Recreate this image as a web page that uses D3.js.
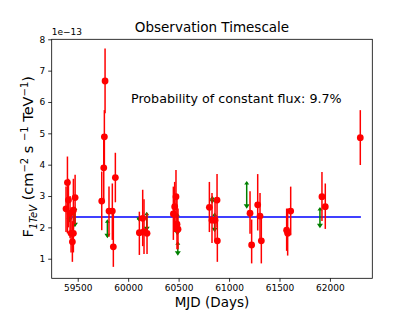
<!DOCTYPE html>
<html lang="en">
<head>
<meta charset="utf-8">
<title>Observation Timescale</title>
<script src="https://cdnjs.cloudflare.com/ajax/libs/d3/7.8.5/d3.min.js"></script>
<style>
  html, body { margin: 0; padding: 0; background: #fff; }
  svg { display: block; font-family: "DejaVu Sans", sans-serif; }
</style>
</head>
<body>
<div id="chart"></div>
<script>
// detections: MJD, flux (1e-13), error bar top / bottom
const mjd  = [59384, 59398, 59408, 59424, 59434, 59447, 59457, 59457, 59474,
              59738, 59758, 59764, 59771, 59810, 59843, 59853, 59873,
              60111, 60144, 60157, 60187,
              60448, 60461, 60474, 60484, 60494,
              60805, 60831, 60861, 60881, 60884,
              61208, 61224, 61284, 61307, 61320,
              61571, 61581, 61611, 61921, 61954, 62301];
const flux = [2.59, 3.43, 2.87, 2.45, 1.81, 1.54, 1.81, 2.55, 2.95,
              2.84, 3.90, 4.89, 6.67, 2.52, 2.52, 1.38, 3.59,
              1.83, 2.29, 1.86, 1.81,
              2.43, 2.66, 2.98, 2.10, 1.94,
              2.64, 2.23, 2.23, 2.87, 1.57,
              2.45, 1.44, 2.72, 2.36, 1.57,
              1.91, 1.81, 2.52, 2.98, 2.66, 4.86];
const errTop = [3.30, 4.26, 3.55, 3.00, 2.45, 2.20, 2.60, 3.55, 3.68,
                3.78, 4.95, 5.74, 7.71, 3.30, 3.40, 2.45, 4.38,
                2.50, 3.20, 2.90, 2.45,
                3.30, 3.45, 3.83, 2.90, 2.60,
                3.45, 3.10, 2.90, 3.70, 2.30,
                3.15, 2.25, 3.70, 3.10, 2.30,
                2.60, 2.60, 3.30, 3.77, 3.40, 5.74];
const errBot = [1.85, 1.81, 2.00, 1.65, 1.20, 0.90, 1.20, 1.75, 2.10,
                1.91, 2.90, 3.95, 5.64, 1.70, 1.60, 0.74, 2.80,
                1.12, 1.40, 1.15, 1.15,
                1.60, 1.85, 2.10, 1.30, 1.30,
                1.85, 1.50, 1.55, 2.00, 0.90,
                1.80, 0.85, 1.90, 1.55, 0.85,
                1.25, 1.10, 1.75, 2.20, 1.95, 3.99];

// upper limits: MJD, top, bottom (arrow)
const ulMjd = [59418, 59472, 59794, 60110, 60184, 60488, 60492, 60834, 60857, 61175, 61901];
const ulTop = [2.45, 2.62, 2.21, 2.31, 2.45, 2.42, 1.51, 2.96, 2.43, 3.43, 2.60];
const ulBot = [2.20, 2.05, 1.70, 2.22, 1.92, 1.79, 1.14, 2.80, 1.89, 2.64, 2.02];

// constant flux fit
const fitRange = [59408, 62307];
const fitValue = 2.33;

const xTicks = [59500, 60000, 60500, 61000, 61500, 62000];
const yTicks = [1, 2, 3, 4, 5, 6, 7, 8];

const W = 417, H = 313;
const margin = {top: 39.3, right: 44.7, bottom: 34.7, left: 51.7};
const width = W - margin.left - margin.right,
      height = H - margin.top - margin.bottom;

const x = d3.scaleLinear().domain([59242, 62420]).range([0, width]);
const y = d3.scaleLinear().domain([0.375, 8.0]).range([height, 0]);

const svg = d3.select("#chart").append("svg")
  .attr("width", W).attr("height", H);

const g = svg.append("g")
  .attr("transform", "translate(" + margin.left + "," + margin.top + ")");

// axes
const xAxis = g.append("g")
  .attr("transform", "translate(0," + height + ")")
  .call(d3.axisBottom(x).tickValues(xTicks).tickSize(3.5).tickPadding(3).tickFormat(d3.format("d")));
const yAxis = g.append("g")
  .call(d3.axisLeft(y).tickValues(yTicks).tickSize(3.5).tickPadding(3).tickFormat(d3.format("d")));
[xAxis, yAxis].forEach(function(a) {
  a.select(".domain").remove();
  a.selectAll("line").attr("stroke", "#000").attr("stroke-width", 0.8);
  a.selectAll("text").attr("font-size", "9px").attr("font-family", "DejaVu Sans").attr("fill", "#000");
});

// fit line
g.append("line")
  .attr("x1", x(fitRange[0])).attr("x2", x(fitRange[1]))
  .attr("y1", y(fitValue)).attr("y2", y(fitValue))
  .attr("stroke", "#0000ff").attr("stroke-width", 1.5);

// upper limits
const ul = ulMjd.map(function(m, i) { return {m: m, t: ulTop[i], b: ulBot[i]}; });
const ulG = g.append("g").attr("fill", "#008000").attr("stroke", "#008000");
ulG.selectAll("line.ul").data(ul).enter().append("line")
  .attr("class", "ul")
  .attr("x1", d => x(d.m)).attr("x2", d => x(d.m))
  .attr("y1", d => y(d.t)).attr("y2", d => y(d.b))
  .attr("stroke-width", 1.5);
ulG.selectAll("path.head").data(ul).enter().append("path")
  .attr("class", "head")
  .attr("stroke", "none")
  .attr("d", function(d) {
    const cx = x(d.m), cy = y(d.b);
    return "M" + (cx - 3) + "," + (cy - 3) + "L" + (cx + 3) + "," + (cy - 3) + "L" + cx + "," + (cy + 1.5) + "Z";
  });
ulG.selectAll("path.cap").data(ul).enter().append("path")
  .attr("class", "cap")
  .attr("stroke", "none")
  .attr("d", function(d) {
    const cx = x(d.m), cy = y(d.t);
    return "M" + (cx - 2.5) + "," + (cy + 2) + "L" + (cx + 2.5) + "," + (cy + 2) + "L" + cx + "," + (cy - 1.5) + "Z";
  });

// detections
const det = mjd.map(function(m, i) { return {m: m, f: flux[i], t: errTop[i], b: errBot[i]}; });
g.append("g").selectAll("line").data(det).enter().append("line")
  .attr("x1", d => x(d.m)).attr("x2", d => x(d.m))
  .attr("y1", d => y(d.t)).attr("y2", d => y(d.b))
  .attr("stroke", "#ff0000").attr("stroke-width", 1.5);
g.append("g").selectAll("circle").data(det).enter().append("circle")
  .attr("cx", d => x(d.m)).attr("cy", d => y(d.f))
  .attr("r", 3.4).attr("fill", "#ff0000");

// frame
g.append("rect")
  .attr("width", width).attr("height", height)
  .attr("fill", "none").attr("stroke", "#000").attr("stroke-width", 0.8);

// annotation
g.append("text")
  .attr("x", x(60028)).attr("y", y(5.98))
  .attr("font-size", "12.7px").attr("fill", "#000")
  .text("Probability of constant flux: 9.7%");

// title
svg.append("text")
  .attr("x", margin.left + width / 2).attr("y", 32)
  .attr("text-anchor", "middle").attr("font-size", "13.5px")
  .text("Observation  Timescale");

// offset text
svg.append("text")
  .attr("x", margin.left).attr("y", 35)
  .attr("font-size", "9px")
  .text("1e\u221213");

// x label
svg.append("text")
  .attr("x", margin.left + width / 2).attr("y", 307)
  .attr("text-anchor", "middle").attr("font-size", "13.5px")
  .text("MJD (Days)");

// y label
const yl = svg.append("text")
  .attr("transform", "translate(33," + (margin.top + height / 2 - 2) + ") rotate(-90)")
  .attr("text-anchor", "middle").attr("font-size", "14.5px");
yl.append("tspan").text("F");
yl.append("tspan").attr("font-size", "10px").attr("font-style", "italic").attr("dy", 3.5).text("1TeV");
yl.append("tspan").attr("dy", -3.5).text(" (cm");
yl.append("tspan").attr("font-size", "10px").attr("dy", -5.5).text("\u22122");
yl.append("tspan").attr("dy", 5.5).text(" s ");
yl.append("tspan").attr("font-size", "10px").attr("dy", -5.5).text("\u22121");
yl.append("tspan").attr("dy", 5.5).text(" TeV");
yl.append("tspan").attr("font-size", "10px").attr("dy", -5.5).text("\u22121");
yl.append("tspan").attr("dy", 5.5).text(")");
</script>
</body>
</html>
